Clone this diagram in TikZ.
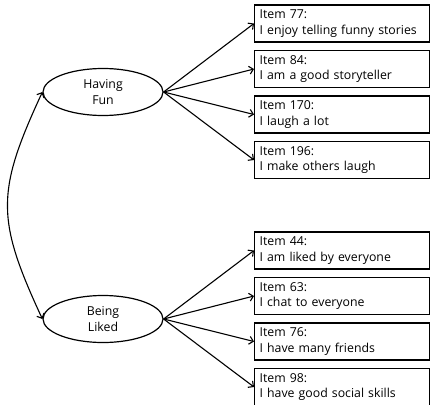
\documentclass[tikz,border=0pt]{standalone}
\usepackage{fontspec}
\setmainfont{Open Sans}
\usetikzlibrary{arrows.meta,shapes.geometric}
\begin{document}
\begin{tikzpicture}[x=1pt,y=-1pt,
  every node/.style={font=\fontsize{12.3}{15.5}\selectfont},
  latent/.style={draw,ellipse,line width=1.2pt,minimum width=120pt,minimum height=47pt,inner sep=0pt,align=center},
  itembox/.style={draw,rectangle,line width=1.2pt,anchor=west,minimum width=175pt,minimum height=37pt,text width=165pt,inner xsep=5pt,inner ysep=0pt,align=left},
  link/.style={line width=1.1pt,-{Straight Barb[length=4pt,width=8pt]}},
  corr/.style={line width=1.1pt,{Straight Barb[length=4pt,width=8pt]}-{Straight Barb[length=4pt,width=8pt]}}]
\clip (0,0) rectangle (430,404);
\useasboundingbox (0,0) rectangle (430,404);
\node[latent] (fun) at (103,92) {Having\\Fun};
\node[latent] (liked) at (103,319) {Being\\Liked};
\node[itembox] (i77) at (254,23.5) {Item 77:\\I enjoy telling funny stories};
\node[itembox] (i84) at (254,69) {Item 84:\\I am a good storyteller};
\node[itembox] (i170) at (254,114.5) {Item 170:\\I laugh a lot};
\node[itembox] (i196) at (254,160) {Item 196:\\I make others laugh};
\node[itembox] (i44) at (254,250.5) {Item 44:\\I am liked by everyone};
\node[itembox] (i63) at (254,296) {Item 63:\\I chat to everyone};
\node[itembox] (i76) at (254,341.5) {Item 76:\\I have many friends};
\node[itembox] (i98) at (254,387) {Item 98:\\I have good social skills};
\foreach \t in {i77,i84,i170,i196} \draw[link] (fun.east) -- (\t.west);
\foreach \t in {i44,i63,i76,i98} \draw[link] (liked.east) -- (\t.west);
\draw[corr] (liked.west) .. controls (-4,219) and (-4,192) .. (fun.west);
\end{tikzpicture}
\end{document}
